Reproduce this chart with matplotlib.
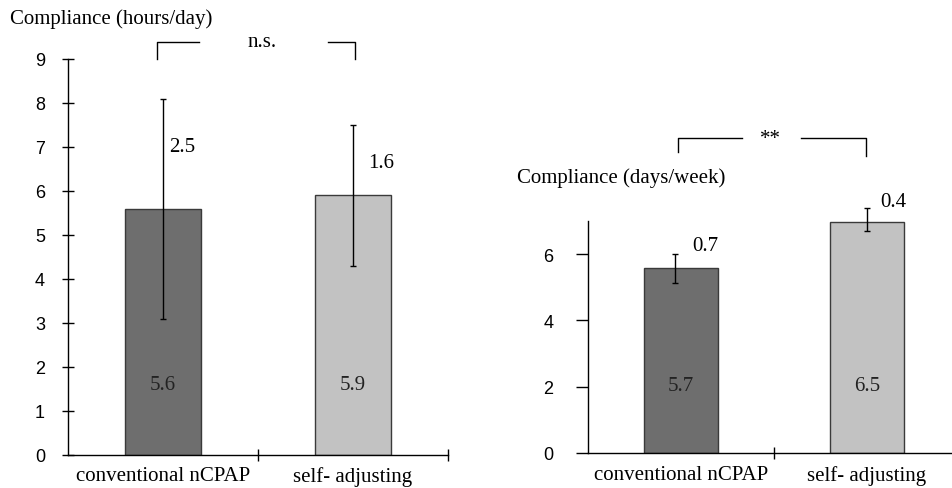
import matplotlib.pyplot as plt

# data
groups = ["conventional nCPAP", "self- adjusting"]
hours_mean = [5.6, 5.9]
hours_sd = [2.5, 1.6]
hours_mean_txt = ["5.6", "5.9"]
hours_sd_txt = ["2.5", "1.6"]

days_bar = [5.57, 6.96]      # bar heights as drawn
days_err_mid = [5.56, 7.05]  # centres of the drawn error bars
days_err = [0.44, 0.35]
days_mean_txt = ["5.7", "6.5"]
days_sd_txt = ["0.7", "0.4"]

bar_colors = ["#6e6e6e", "#c2c2c2"]
serif = "Liberation Serif"
sans = "Liberation Sans"
FS = 15

fig = plt.figure(figsize=(9.53, 4.89), dpi=100)
W, H = 953.0, 489.0


def setup(ax, ymax, yticks, tickdir, ticklen, pad, xoff):
    ax.set_xlim(-0.5, 1.5)
    ax.set_ylim(0, ymax)
    for s in ["top", "right"]:
        ax.spines[s].set_visible(False)
    ax.spines["left"].set_linewidth(1.0)
    ax.spines["bottom"].set_linewidth(1.0)
    ax.set_yticks(yticks)
    ax.set_yticklabels([str(t) for t in yticks], fontfamily=sans, fontsize=13)
    ax.tick_params(axis="y", direction=tickdir, length=ticklen, width=1, pad=pad)
    ax.set_xticks([0.5, 1.5])
    ax.set_xticklabels([])
    ax.tick_params(axis="x", direction="inout", length=9, width=1)
    for i, g in enumerate(groups):
        ax.annotate(g, (i, 0), xycoords=("data", "axes fraction"), xytext=(0, xoff),
                    textcoords="offset points", ha="center", va="top",
                    fontfamily=serif, fontsize=FS, annotation_clip=False)


# ---- left panel: hours/day ----
ax1 = fig.add_axes([68 / W, (H - 456) / H, 380 / W, 396 / H])
setup(ax1, 9, list(range(10)), "inout", 9, 12, -8)
ax1.bar([0, 1], hours_mean, width=0.4, color=bar_colors, edgecolor="#3a3a3a", linewidth=1)
ax1.errorbar([0, 1], hours_mean, yerr=hours_sd, fmt="none", ecolor="black",
             elinewidth=1, capsize=2.5, capthick=1)
for i in range(2):
    ax1.text(i, 1.6, hours_mean_txt[i], ha="center", va="center", fontfamily=serif, fontsize=FS,
             color="#222222")
ax1.text(0.03, 7.0, hours_sd_txt[0], ha="left", va="center", fontfamily=serif, fontsize=FS)
ax1.text(1.08, 6.65, hours_sd_txt[1], ha="left", va="center", fontfamily=serif, fontsize=FS)
ax1.plot([-0.03, -0.03, 0.19], [9.0, 9.39, 9.39], color="black", lw=1, clip_on=False)
ax1.plot([0.87, 1.01, 1.01], [9.39, 9.39, 9.0], color="black", lw=1, clip_on=False)
ax1.text(0.52, 9.39, "n.s.", ha="center", va="center", fontfamily=serif, fontsize=FS)
fig.text(10 / W, (H - 19) / H, "Compliance (hours/day)", ha="left", va="center",
         fontfamily=serif, fontsize=FS)

# ---- right panel: days/week ----
ax2 = fig.add_axes([588 / W, (H - 454) / H, 372 / W, 232 / H])
setup(ax2, 7, [0, 2, 4, 6], "out", 9, 16, -9)
ax2.bar([0, 1], days_bar, width=0.4, color=bar_colors, edgecolor="#3a3a3a", linewidth=1)
ax2.errorbar([-0.03, 1.0], days_err_mid, yerr=days_err, fmt="none", ecolor="black",
             elinewidth=1, capsize=2.5, capthick=1, clip_on=False)
for i in range(2):
    ax2.text(i, 2.05, days_mean_txt[i], ha="center", va="center", fontfamily=serif, fontsize=FS,
             color="#222222")
ax2.text(0.06, 6.27, days_sd_txt[0], ha="left", va="center", fontfamily=serif, fontsize=FS)
ax2.text(1.07, 7.6, days_sd_txt[1], ha="left", va="center", fontfamily=serif, fontsize=FS)
ax2.plot([-0.016, -0.016, 0.33], [9.07, 9.49, 9.49], color="black", lw=1, clip_on=False)
ax2.plot([0.645, 0.995, 0.995], [9.49, 9.49, 8.95], color="black", lw=1, clip_on=False)
ax2.text(0.48, 9.49, "**", ha="center", va="center", fontfamily=serif, fontsize=FS)
fig.text(517 / W, (H - 178) / H, "Compliance (days/week)", ha="left", va="center",
         fontfamily=serif, fontsize=FS)

fig.savefig("out.png", dpi=100)
